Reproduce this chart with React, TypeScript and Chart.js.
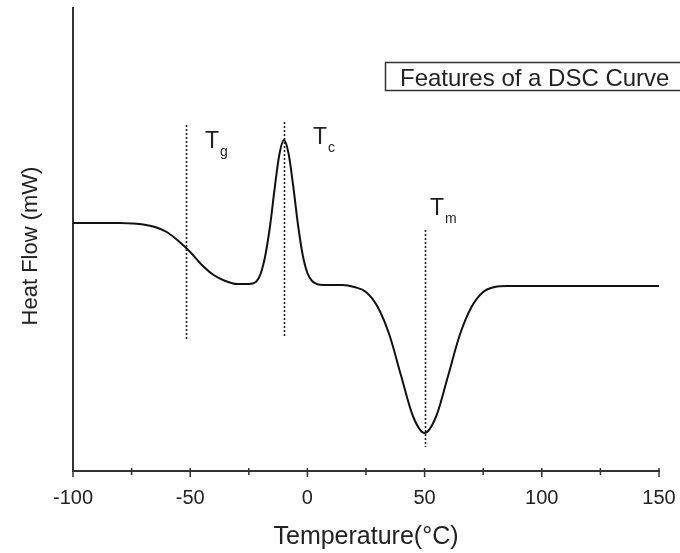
import React, { useEffect, useRef } from 'react';
import { Chart, registerables } from 'chart.js';

Chart.register(...registerables);

// DSC curve (temperature in °C, heat flow in arbitrary units)
const temperatures = [-100, -90, -80, -75, -70, -65, -60, -55, -50, -45, -40, -35, -30, -25, -22, -20, -18, -16, -14, -12, -10, -8, -6, -4, -2, 0, 2, 4, 7, 10, 15, 20, 25, 30, 35, 40, 45, 50, 55, 60, 65, 70, 75, 80, 85, 90, 100, 120, 150];
const heatFlow = [248, 248, 248, 247.5, 246.5, 244, 239, 230, 219, 206, 196, 190, 187, 187, 189, 197, 215, 244, 282, 316, 331, 317, 284, 246, 216, 198, 190, 187, 186, 186, 186, 184, 179, 164, 136, 95, 55, 38, 55, 95, 136, 164, 179, 184, 185, 185, 185, 185, 185];

const xTickValues = [-100, -50, 0, 50, 100, 150];
const xMinorTickValues = [-75, -25, 25, 75, 125];

const markerLabels = ['g', 'c', 'm'];
const markerTemps = [-52, -10, 50];
const markerTop = [346, 349, 241];
const markerBottom = [131, 133, 24];
const markerLabelTemps = [-43.7, 2.4, 52.3];
const markerLabelValues = [323, 327, 256];

const boxTitle = 'Features of a DSC Curve';
const xTitle = 'Temperature(°C)';
const yTitle = 'Heat Flow (mW)';

const FONT = '"Liberation Sans", Arial, sans-serif';

const decorPlugin = {
  id: 'decor',
  afterDraw(chart: any) {
    const ctx = chart.ctx;
    const xs = chart.scales.x;
    const ys = chart.scales.y;
    const axisY = chart.chartArea.bottom;
    ctx.save();
    // tick marks crossing the x axis
    ctx.strokeStyle = '#333';
    ctx.lineWidth = 1.5;
    xTickValues.forEach((v) => {
      const px = xs.getPixelForValue(v);
      ctx.beginPath();
      ctx.moveTo(px, axisY - 3);
      ctx.lineTo(px, axisY + 6);
      ctx.stroke();
    });
    xMinorTickValues.forEach((v) => {
      const px = xs.getPixelForValue(v);
      ctx.beginPath();
      ctx.moveTo(px, axisY - 3);
      ctx.lineTo(px, axisY + 4);
      ctx.stroke();
    });
    // dotted marker lines
    ctx.setLineDash([2, 2]);
    ctx.strokeStyle = '#222';
    ctx.lineWidth = 1.6;
    markerTemps.forEach((t, i) => {
      const px = Math.round(xs.getPixelForValue(t)) + 0.5;
      ctx.beginPath();
      ctx.moveTo(px, ys.getPixelForValue(markerTop[i]));
      ctx.lineTo(px, ys.getPixelForValue(markerBottom[i]));
      ctx.stroke();
    });
    ctx.setLineDash([]);
    // marker labels T with subscripts
    ctx.fillStyle = '#222';
    ctx.textBaseline = 'alphabetic';
    ctx.textAlign = 'left';
    markerLabels.forEach((sub, i) => {
      const px = xs.getPixelForValue(markerLabelTemps[i]);
      const py = ys.getPixelForValue(markerLabelValues[i]);
      ctx.font = `23px ${FONT}`;
      ctx.fillText('T', px, py);
      const w = ctx.measureText('T').width;
      ctx.font = `14px ${FONT}`;
      ctx.fillText(sub, px + w + 1, py + 8);
    });
    // title box
    ctx.strokeStyle = '#333';
    ctx.lineWidth = 1.5;
    ctx.strokeRect(385.5, 62.5, 320, 28);
    ctx.font = `24px ${FONT}`;
    ctx.fillStyle = '#222';
    ctx.fillText(boxTitle, 400, 86);
    // y axis title
    ctx.save();
    ctx.translate(31, 246);
    ctx.rotate(-Math.PI / 2);
    ctx.textAlign = 'center';
    ctx.textBaseline = 'middle';
    ctx.font = `22px ${FONT}`;
    ctx.fillText(yTitle, 0, 0);
    ctx.restore();
    ctx.restore();
  },
};

export default function App() {
  const ref = useRef<HTMLCanvasElement | null>(null);
  useEffect(() => {
    if (!ref.current) return;
    const chart = new Chart(ref.current, {
      type: 'line',
      data: {
        datasets: [
          {
            data: temperatures.map((t, i) => ({ x: t, y: heatFlow[i] })),
            borderColor: '#111',
            borderWidth: 2,
            pointRadius: 0,
            cubicInterpolationMode: 'monotone',
            fill: false,
          },
        ],
      },
      options: {
        animation: false,
        responsive: false,
        devicePixelRatio: 1,
        layout: { padding: { left: 0, top: 8, right: 21, bottom: 0 } },
        plugins: { legend: { display: false }, tooltip: { enabled: false } },
        scales: {
          x: {
            type: 'linear',
            min: -100,
            max: 150,
            afterBuildTicks: (s: any) => {
              s.ticks = xTickValues.map((v) => ({ value: v }));
            },
            afterFit: (s: any) => {
              s.height = 82;
              s.paddingLeft = 0;
              s.paddingRight = 0;
            },
            ticks: {
              color: '#222',
              font: { size: 20, family: FONT },
              padding: 15,
              maxRotation: 0,
              callback: (v: any) => String(v),
            },
            grid: { display: true, drawOnChartArea: false, drawTicks: false },
            border: { display: true, color: '#333', width: 2 },
            title: {
              display: true,
              text: xTitle,
              color: '#222',
              font: { size: 25, family: FONT },
              padding: { top: 0, bottom: 1 },
            },
          },
          y: {
            type: 'linear',
            min: 0,
            max: 463,
            afterFit: (s: any) => {
              s.width = 73;
              s.paddingTop = 0;
              s.paddingBottom = 0;
            },
            ticks: { display: false },
            grid: { display: true, drawOnChartArea: false, drawTicks: false },
            border: { display: true, color: '#333', width: 2 },
            title: { display: false },
          },
        },
      },
      plugins: [decorPlugin],
    } as any);
    return () => chart.destroy();
  }, []);
  return (
    <div style={{ position: 'fixed', left: 0, top: 0, width: 680, height: 553, background: '#fff' }}>
      <canvas ref={ref} width={680} height={553} style={{ display: 'block' }} />
    </div>
  );
}
